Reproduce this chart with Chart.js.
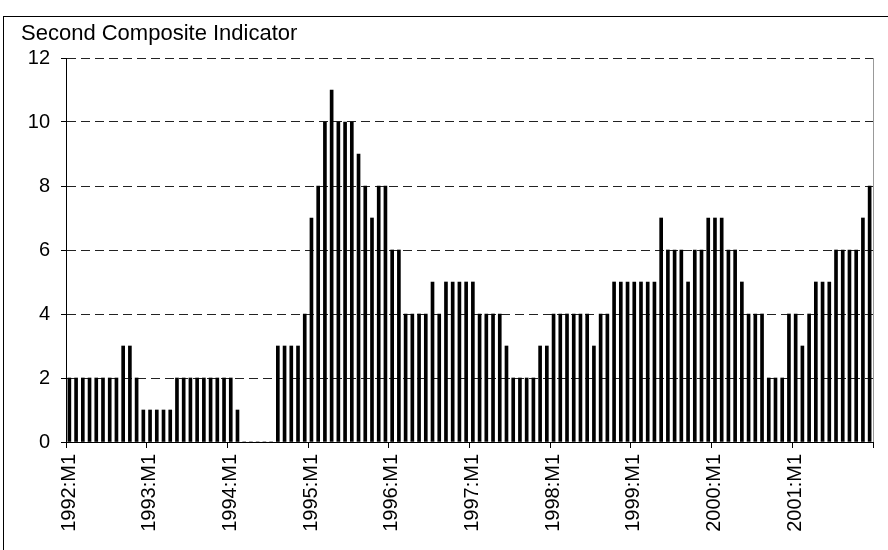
<!DOCTYPE html>
<html>
<head>
<meta charset="utf-8">
<script src="https://cdn.jsdelivr.net/npm/chart.js@4/dist/chart.umd.min.js"></script>
<style>
  html, body { margin: 0; padding: 0; background: #fff; }
  #wrap { position: relative; width: 888px; height: 550px; overflow: hidden; }
  #frame { position: absolute; left: 3px; top: 16px; width: 900px; height: 600px;
           border-left: 1px solid #000; border-top: 1px solid #000; }
  #title { position: absolute; left: 21px; top: 22px; font: 22px "Liberation Sans", Arial, sans-serif;
           line-height: 22px; color: #000; white-space: nowrap; }
  canvas { position: absolute; left: 0; top: 0; }
</style>
</head>
<body>
<div id="wrap">
  <canvas id="indicatorChart" width="888" height="550"></canvas>
  <div id="frame"></div>
  <div id="title">Second Composite Indicator</div>
</div>
<script>
// monthly values, one array per year
var v1992 = [2, 2, 2, 2, 2, 2, 2, 2, 3, 3, 2, 1];
var v1993 = [1, 1, 1, 1, 2, 2, 2, 2, 2, 2, 2, 2];
var v1994 = [2, 1, 0, 0, 0, 0, 0, 3, 3, 3, 3, 4];
var v1995 = [7, 8, 10, 11, 10, 10, 10, 9, 8, 7, 8, 8];
var v1996 = [6, 6, 4, 4, 4, 4, 5, 4, 5, 5, 5, 5];
var v1997 = [5, 4, 4, 4, 4, 3, 2, 2, 2, 2, 3, 3];
var v1998 = [4, 4, 4, 4, 4, 4, 3, 4, 4, 5, 5, 5];
var v1999 = [5, 5, 5, 5, 7, 6, 6, 6, 5, 6, 6, 7];
var v2000 = [7, 7, 6, 6, 5, 4, 4, 4, 2, 2, 2, 4];
var v2001 = [4, 3, 4, 5, 5, 5, 6, 6, 6, 6, 7, 8];

var tickLabels = ["1992:M1", "1993:M1", "1994:M1", "1995:M1", "1996:M1",
                  "1997:M1", "1998:M1", "1999:M1", "2000:M1", "2001:M1"];

var values = [].concat(v1992, v1993, v1994, v1995, v1996, v1997, v1998, v1999, v2000, v2001);

// each month sits in the middle of its slot on a linear month axis
var points = values.map(function(v, i) { return { x: i + 0.5, y: v }; });

document.addEventListener("DOMContentLoaded", function() {
    var ctx = document.getElementById("indicatorChart").getContext("2d");
    Chart.defaults.font.family = '"Liberation Sans", Arial, sans-serif';
    Chart.defaults.color = "#000";

    new Chart(ctx, {
        type: "bar",
        data: {
            datasets: [{
                data: points,
                backgroundColor: "#000",
                borderWidth: 0,
                barThickness: 3
            }]
        },
        options: {
            responsive: false,
            animation: false,
            layout: {
                padding: { left: 0, top: 58, right: 15, bottom: 0 }
            },
            plugins: {
                legend: { display: false },
                tooltip: { enabled: false }
            },
            scales: {
                x: {
                    type: "linear",
                    min: 0,
                    max: 120,
                    offset: false,
                    afterFit: function(scale) {
                        scale.height = 108;
                        scale.paddingLeft = 0;
                        scale.paddingRight = 0;
                    },
                    grid: {
                        offset: false,
                        drawOnChartArea: true,
                        color: function(c) {
                            return c.tick && c.tick.value === 120 ? "#999" : "rgba(0,0,0,0)";
                        },
                        tickColor: "#000",
                        tickLength: 6
                    },
                    border: { display: true, color: "#000", width: 1 },
                    ticks: {
                        stepSize: 12,
                        autoSkip: false,
                        maxRotation: 90,
                        minRotation: 90,
                        padding: 6,
                        labelOffset: 3,
                        font: { size: 20 },
                        callback: function(v) {
                            var k = v / 12;
                            return tickLabels[k] !== undefined ? tickLabels[k] : "";
                        }
                    }
                },
                y: {
                    min: 0,
                    max: 12,
                    afterFit: function(scale) {
                        scale.width = 66;
                        scale.paddingTop = 0;
                        scale.paddingBottom = 0;
                    },
                    grid: {
                        color: "#222",
                        tickColor: "#000",
                        tickLength: 5
                    },
                    border: { display: true, color: "#000", width: 1, dash: [9, 5] },
                    ticks: {
                        stepSize: 2,
                        padding: 11,
                        font: { size: 20 }
                    }
                }
            }
        }
    });
});
</script>
</body>
</html>
